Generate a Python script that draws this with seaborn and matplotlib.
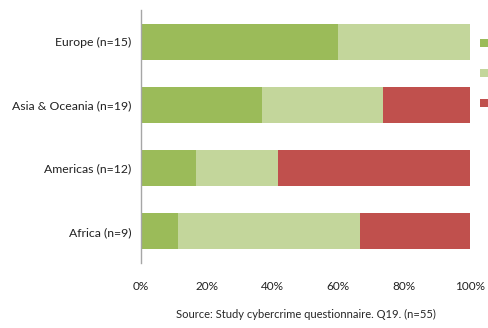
import numpy as np
import pandas as pd
import matplotlib
matplotlib.use("Agg")
import matplotlib.pyplot as plt
from matplotlib.patches import Patch
from matplotlib.ticker import PercentFormatter
import seaborn as sns

# Share of answers per region (counts out of n, expressed as %)
regions = ["Europe (n=15)", "Asia & Oceania (n=19)", "Americas (n=12)", "Africa (n=9)"]
dark_green = [60.0, 36.8, 16.7, 11.1]
light_green = [40.0, 36.8, 25.0, 55.6]
red = [0.0, 26.3, 58.3, 33.3]

colors = ["#9BBB59", "#C3D69B", "#C0504D"]

sns.set_theme(style="white")
plt.rcParams["font.family"] = ["Lato", "DejaVu Sans"]

df = pd.DataFrame({"region": regions, "dark": dark_green, "light": light_green, "red": red})
df["c1"] = df["dark"]
df["c2"] = df["dark"] + df["light"]
df["c3"] = df["c2"] + df["red"]

fig = plt.figure(figsize=(4.88, 3.28), dpi=100)
ax = fig.add_axes([141 / 488, 1 - 263 / 328, (470 - 141) / 488, (263 - 10) / 328])

# stacked bars: draw the cumulative totals from the back to the front
for col, c in zip(["c3", "c2", "c1"], colors[::-1]):
    sns.barplot(data=df, x=col, y="region", order=regions, color=c,
                width=0.57, saturation=1, ax=ax, linewidth=0)

ax.set_xlim(0, 100)
ax.set_ylim(3.5, -0.5)
ax.xaxis.set_major_formatter(PercentFormatter(decimals=0))
ax.set_xticks([0, 20, 40, 60, 80, 100])
ax.set_ylabel("")
ax.set_xlabel("Source: Study cybercrime questionnaire. Q19. (n=55)", fontsize=8, labelpad=12)
ax.tick_params(axis="both", length=0, colors="#222222")
ax.tick_params(axis="y", labelsize=8.8, pad=7)
ax.tick_params(axis="x", labelsize=8.5, pad=13)
for s in ["top", "right", "bottom"]:
    ax.spines[s].set_visible(False)
ax.spines["left"].set_color("#A6A6A6")
ax.spines["left"].set_linewidth(1)

handles = [Patch(facecolor=c, edgecolor="none") for c in colors]
fig.legend(handles, ["", "", ""], loc="upper left", bbox_to_anchor=(480 / 488, 1 - 37 / 328),
           frameon=False, handlelength=0.6, handleheight=0.6, labelspacing=1.45,
           borderpad=0, borderaxespad=0, fontsize=9)

fig.savefig("out.png", dpi=100)
